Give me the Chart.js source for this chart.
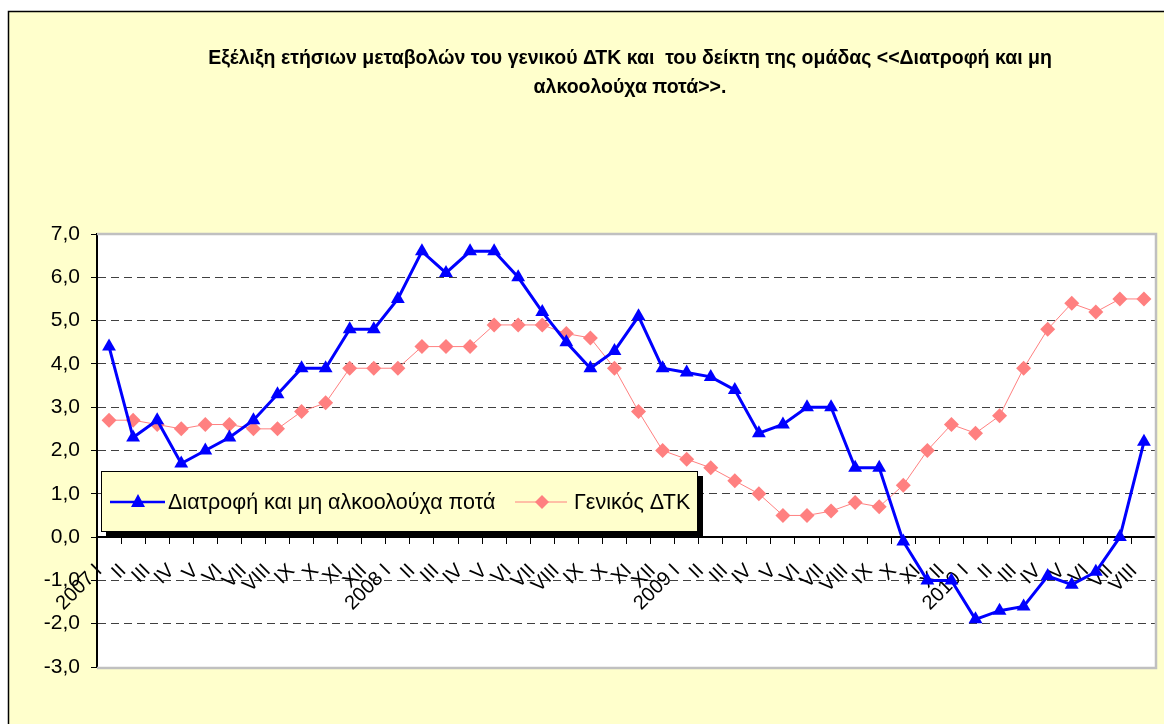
<!DOCTYPE html>
<html>
<head>
<meta charset="utf-8">
<script src="https://cdn.jsdelivr.net/npm/chart.js@4.4.1/dist/chart.umd.min.js"></script>
<style>
html,body{margin:0;padding:0;background:#fff;}
canvas{display:block;}
</style>
</head>
<body>
<canvas id="c" width="1164" height="724"></canvas>
<script>
// ---- data ----
const titleLines = [
  "Εξέλιξη ετήσιων μεταβολών του γενικού ΔΤΚ και  του δείκτη της ομάδας <<Διατροφή και μη",
  "αλκοολούχα ποτά>>."
];
const categories = [
  "2007 I","II","III","IV","V","VI","VII","VIII","IX","X","XI","XII",
  "2008 I","II","III","IV","V","VI","VII","VIII","IX","X","XI","XII",
  "2009 I","II","III","IV","V","VI","VII","VIII","IX","X","XI","XII",
  "2010 I","II","III","IV","V","VI","VII","VIII"
];
const seriesNames = ["Διατροφή και μη αλκοολούχα ποτά", "Γενικός ΔΤΚ"];
const foodValues = [
  4.4, 2.3, 2.7, 1.7, 2.0, 2.3, 2.7, 3.3, 3.9, 3.9, 4.8, 4.8,
  5.5, 6.6, 6.1, 6.6, 6.6, 6.0, 5.2, 4.5, 3.9, 4.3, 5.1, 3.9,
  3.8, 3.7, 3.4, 2.4, 2.6, 3.0, 3.0, 1.6, 1.6, -0.1, -1.0, -1.0,
  -1.9, -1.7, -1.6, -0.9, -1.1, -0.8, 0.0, 2.2
];
const cpiValues = [
  2.7, 2.7, 2.6, 2.5, 2.6, 2.6, 2.5, 2.5, 2.9, 3.1, 3.9, 3.9,
  3.9, 4.4, 4.4, 4.4, 4.9, 4.9, 4.9, 4.7, 4.6, 3.9, 2.9, 2.0,
  1.8, 1.6, 1.3, 1.0, 0.5, 0.5, 0.6, 0.8, 0.7, 1.2, 2.0, 2.6,
  2.4, 2.8, 3.9, 4.8, 5.4, 5.2, 5.5, 5.5
];
const yMin = -3, yMax = 7, yStep = 1;

const FONT = "'Liberation Sans', Arial, sans-serif";
const BLUE = "#0000FF", PINK = "#FF8080", BG = "#FFFFCC";

const framePlugin = {
  id: 'frame',
  beforeDraw(chart) {
    const ctx = chart.ctx, W = chart.width, H = chart.height, a = chart.chartArea;
    ctx.save();
    ctx.fillStyle = "#fff"; ctx.fillRect(0, 0, W, H);
    ctx.fillStyle = BG; ctx.fillRect(9, 12, W - 9, H - 12);
    ctx.strokeStyle = "#000"; ctx.lineWidth = 1.5;
    ctx.beginPath(); ctx.moveTo(8.5, H); ctx.lineTo(8.5, 11.5); ctx.lineTo(W, 11.5); ctx.stroke();
    ctx.fillStyle = "#fff"; ctx.fillRect(a.left, a.top, a.right - a.left, a.bottom - a.top);
    ctx.restore();
  },
  beforeDatasetsDraw(chart) {
    const ctx = chart.ctx, a = chart.chartArea;
    ctx.save();
    ctx.strokeStyle = "#C0C0C0"; ctx.lineWidth = 2.5;
    ctx.beginPath();
    ctx.moveTo(a.left, a.top); ctx.lineTo(a.right, a.top); ctx.lineTo(a.right, a.bottom + 1); ctx.lineTo(a.left, a.bottom + 1);
    ctx.stroke();
    ctx.restore();
  },
  afterDraw(chart) {
    const ctx = chart.ctx;
    ctx.save();
    // title
    ctx.fillStyle = "#000";
    ctx.font = "bold 19.5px " + FONT;
    ctx.textAlign = "center"; ctx.textBaseline = "alphabetic";
    ctx.fillText(titleLines[0], 630, 64);
    ctx.fillText(titleLines[1], 630, 93);
    // legend
    const bx = 101, by = 471, bw = 597, bh = 61;
    ctx.fillStyle = "#000"; ctx.fillRect(bx + 5, by + 5, bw, bh);
    ctx.fillStyle = BG; ctx.fillRect(bx, by, bw, bh);
    ctx.strokeStyle = "#000"; ctx.lineWidth = 1; ctx.strokeRect(bx + 0.5, by + 0.5, bw - 1, bh - 1);
    const ly = 502;
    ctx.strokeStyle = BLUE; ctx.lineWidth = 2.5;
    ctx.beginPath(); ctx.moveTo(110, ly); ctx.lineTo(165, ly); ctx.stroke();
    ctx.fillStyle = BLUE;
    ctx.beginPath(); ctx.moveTo(138, ly - 8); ctx.lineTo(145, ly + 5); ctx.lineTo(131, ly + 5); ctx.closePath(); ctx.fill();
    ctx.strokeStyle = PINK; ctx.lineWidth = 1;
    ctx.beginPath(); ctx.moveTo(515, ly); ctx.lineTo(567, ly); ctx.stroke();
    ctx.fillStyle = PINK;
    ctx.beginPath(); ctx.moveTo(542, ly - 7); ctx.lineTo(549, ly); ctx.lineTo(542, ly + 7); ctx.lineTo(535, ly); ctx.closePath(); ctx.fill();
    ctx.fillStyle = "#000"; ctx.font = "21.5px " + FONT; ctx.textAlign = "left"; ctx.textBaseline = "middle";
    ctx.fillText(seriesNames[0], 168, ly + 1);
    ctx.fillText(seriesNames[1], 574, ly + 1);
    ctx.restore();
  }
};

new Chart(document.getElementById('c'), {
  type: 'line',
  data: {
    labels: categories,
    datasets: [
      { label: seriesNames[0], data: foodValues, borderColor: BLUE, backgroundColor: BLUE,
        borderWidth: 3, pointStyle: 'triangle', pointRadius: 8, pointHoverRadius: 8,
        pointBorderWidth: 0, tension: 0, fill: false },
      { label: seriesNames[1], data: cpiValues, borderColor: PINK, backgroundColor: PINK,
        borderWidth: 1, pointStyle: 'rectRot', pointRadius: 7.5, pointHoverRadius: 7.5,
        pointBorderWidth: 0, tension: 0, fill: false }
    ]
  },
  options: {
    responsive: false, animation: false, devicePixelRatio: 1,
    layout: { padding: { left: 37, top: 234, right: 8, bottom: 57 } },
    plugins: { legend: { display: false }, title: { display: false }, tooltip: { enabled: false } },
    scales: {
      x: {
        type: 'category', offset: true, position: { y: 0 },
        afterFit(s) { s.paddingLeft = 0; s.paddingRight = 0; },
        grid: { display: true, offset: true, drawOnChartArea: false, drawTicks: true, tickLength: 6,
                color: '#000', tickColor: '#000', tickWidth: 1 },
        border: { display: true, color: '#000', width: 2 },
        ticks: { autoSkip: false, minRotation: 45, maxRotation: 45, color: '#000',
                 font: { family: FONT, size: 20 }, padding: 16, labelOffset: -10 }
      },
      y: {
        min: yMin, max: yMax,
        afterFit(s) { s.width = 60; },
        grid: { display: true, drawOnChartArea: true, drawTicks: true, tickLength: 6,
                color: (c) => (c.tick && (c.tick.value === yMax || c.tick.value === yMin)) ? 'rgba(0,0,0,0)' : '#404040',
                borderDash: [8, 5], tickColor: '#000', tickWidth: 1, lineWidth: 1 },
        border: { display: true, color: '#000', width: 2, dash: [8, 5] },
        ticks: { stepSize: yStep, color: '#000', padding: 11,
                 font: { family: FONT, size: 21 },
                 callback: (v) => v.toFixed(1).replace('.', ',') }
      }
    }
  },
  plugins: [framePlugin]
});
</script>
</body>
</html>
